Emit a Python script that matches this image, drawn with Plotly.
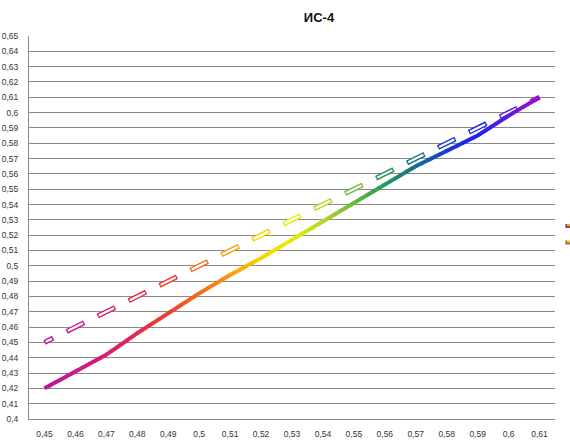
import math
import plotly.graph_objects as go

# ---------------- data ----------------
x_vals = [0.45, 0.46, 0.47, 0.48, 0.49, 0.50, 0.51, 0.52, 0.53,
          0.54, 0.55, 0.56, 0.57, 0.58, 0.59, 0.60, 0.61]
x_labels = ["0,45", "0,46", "0,47", "0,48", "0,49", "0,5", "0,51", "0,52", "0,53",
            "0,54", "0,55", "0,56", "0,57", "0,58", "0,59", "0,6", "0,61"]
y_actual = [0.420, 0.431, 0.442, 0.456, 0.469, 0.482, 0.494, 0.505, 0.517,
            0.529, 0.541, 0.553, 0.565, 0.575, 0.585, 0.598, 0.610]
y_ideal = [0.45, 0.46, 0.47, 0.48, 0.49, 0.50, 0.51, 0.52, 0.53,
           0.54, 0.55, 0.56, 0.57, 0.58, 0.59, 0.60, 0.61]
y_tickvals = [0.40, 0.41, 0.42, 0.43, 0.44, 0.45, 0.46, 0.47, 0.48, 0.49, 0.50, 0.51, 0.52,
              0.53, 0.54, 0.55, 0.56, 0.57, 0.58, 0.59, 0.60, 0.61, 0.62, 0.63, 0.64, 0.65]
y_ticktext = ["0,4", "0,41", "0,42", "0,43", "0,44", "0,45", "0,46", "0,47", "0,48", "0,49",
              "0,5", "0,51", "0,52", "0,53", "0,54", "0,55", "0,56", "0,57", "0,58", "0,59",
              "0,6", "0,61", "0,62", "0,63", "0,64", "0,65"]
point_colors = ["#b8169e", "#c81a8a", "#d81e6c", "#e42a4a", "#ec4030", "#f26a1e",
                "#f89a10", "#f6d400", "#eaee00", "#b4d82a", "#6cb83a", "#259858",
                "#14708a", "#1838d8", "#2020f0", "#6018e0", "#9a10c8"]
title_text = "ИС-4"
# the legend of the reference lies beyond the right edge; only its two tiny icons show
legend_icon_colors = [["#2a48d8", "#f4b400", "#e0302e"],
                      ["#2a8a60", "#f0d000", "#e04a2a"]]

# ---------------- layout geometry ----------------
W, H = 570, 440
M = dict(l=29, r=15, t=36, b=21)
PW = W - M["l"] - M["r"]
PH = H - M["t"] - M["b"]
XR = [0.445, 0.615]
YR = [0.40, 0.65]
FONT = "Liberation Sans"
GRID = "#8a8a8a"


def to_px(x, y):
    return ((x - XR[0]) / (XR[1] - XR[0]) * PW, (YR[1] - y) / (YR[1] - YR[0]) * PH)


def cum_len(xs, ys):
    pts = [to_px(a, b) for a, b in zip(xs, ys)]
    c = [0.0]
    for i in range(1, len(pts)):
        c.append(c[-1] + math.dist(pts[i - 1], pts[i]))
    return c


def hex2rgb(h):
    h = h.lstrip("#")
    return [int(h[i:i + 2], 16) for i in (0, 2, 4)]


def mix(c1, c2, t):
    a, b = hex2rgb(c1), hex2rgb(c2)
    r = [round(a[i] + (b[i] - a[i]) * t) for i in range(3)]
    return "rgb(%d,%d,%d)" % tuple(r)


def color_at(cum, s):
    for i in range(len(cum) - 1):
        if s <= cum[i + 1] or i == len(cum) - 2:
            seg = cum[i + 1] - cum[i]
            t = 0 if seg == 0 else min(max((s - cum[i]) / seg, 0), 1)
            return mix(point_colors[i], point_colors[i + 1], t)


def window_dash(start, length, total):
    return "0px,%.2fpx,%.2fpx,%.0fpx" % (max(start, 0), max(length, 0.01), total + 200)


fig = go.Figure()

# ---------------- dashed (hollow) ideal line ----------------
cum_i = cum_len(x_vals, y_ideal)
tot_i = cum_i[-1]
DASH_L = 19.5
for layer, width in (("outer", 5), ("inner", 2.2)):
    for k in range(len(x_vals)):
        s0 = max(0, cum_i[k] - DASH_L / 2)
        s1 = min(tot_i, cum_i[k] + DASH_L / 2)
        if layer == "inner":
            s0 += 1.3
            s1 -= 1.3
        col = point_colors[k] if layer == "outer" else "white"
        fig.add_trace(go.Scatter(
            x=x_vals, y=y_ideal, mode="lines", showlegend=False, hoverinfo="skip",
            line=dict(color=col, width=width, dash=window_dash(s0, s1 - s0, tot_i)),
        ))

# ---------------- solid gradient line ----------------
cum_a = cum_len(x_vals, y_actual)
tot_a = cum_a[-1]
N = 90
step = tot_a / N
for j in range(N):
    s0 = j * step
    fig.add_trace(go.Scatter(
        x=x_vals, y=y_actual, mode="lines", showlegend=False,
        hoverinfo="skip" if j else "x+y",
        line=dict(color=color_at(cum_a, s0 + step / 2), width=4,
                  dash=window_dash(s0 - 0.4 if j else 0, step + 0.8, tot_a)),
    ))

# ---------------- tiny legend icons at the right edge ----------------
shapes = []
for yc, cols in zip([226, 242.5], legend_icon_colors):
    cells = [(565.5, 567.0, yc - 2, yc + 2, cols[0]),
             (567.0, 570.0, yc - 2, yc, cols[1]),
             (567.0, 570.0, yc, yc + 2, cols[2])]
    for x0, x1, y0, y1, c in cells:
        shapes.append(dict(type="rect", xref="paper", yref="paper",
                           x0=(x0 - M["l"]) / PW, x1=(x1 - M["l"]) / PW,
                           y0=1 - (y1 - M["t"]) / PH, y1=1 - (y0 - M["t"]) / PH,
                           line=dict(width=0), fillcolor=c, layer="above"))

fig.update_layout(
    width=W, height=H,
    margin=dict(l=M["l"], r=M["r"], t=M["t"], b=M["b"], pad=0, autoexpand=False),
    paper_bgcolor="white", plot_bgcolor="white",
    font=dict(family=FONT, size=8.5, color="#333333"),
    title=dict(text="<b>" + title_text + "</b>", font=dict(family=FONT, size=13, color="#111111"),
               x=319 / W, xanchor="center", xref="container",
               y=1 - 17 / H, yanchor="middle", yref="container"),
    showlegend=False,
    shapes=shapes,
    xaxis=dict(range=XR, tickmode="array", tickvals=x_vals, ticktext=x_labels,
               showgrid=False, zeroline=False, showline=True, linecolor=GRID, linewidth=1,
               ticks="", automargin=False, fixedrange=True, ticklabelstandoff=7),
    yaxis=dict(range=YR, tickmode="array", tickvals=y_tickvals, ticktext=y_ticktext,
               showgrid=True, gridcolor=GRID, gridwidth=1, zeroline=False,
               showline=True, linecolor=GRID, linewidth=1,
               ticks="", automargin=False, fixedrange=True, ticklabelstandoff=8),
)

fig.write_html("out.html", config={"displayModeBar": False},
               post_script="document.body.style.margin='0';document.body.style.overflow='hidden';")
